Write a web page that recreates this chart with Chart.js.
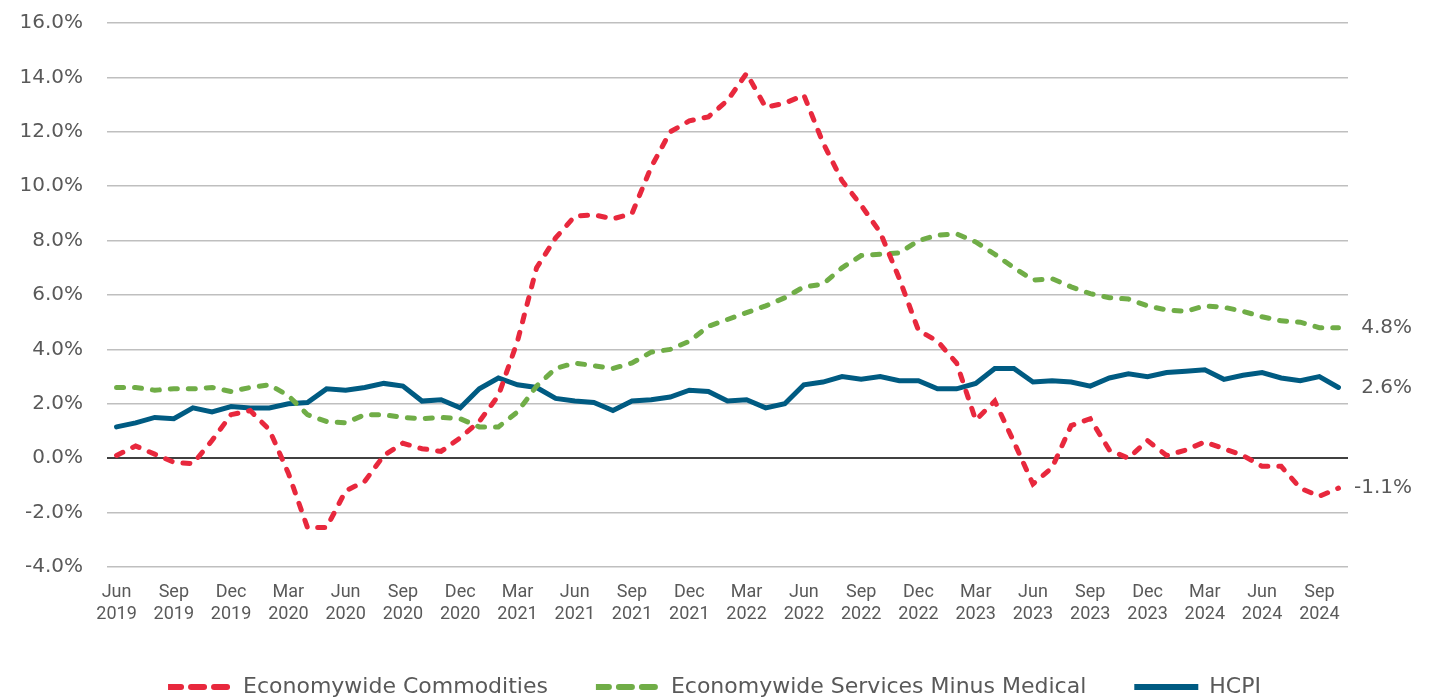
<!DOCTYPE html>
<html>
<head>
<meta charset="utf-8">
<script src="https://cdn.jsdelivr.net/npm/chart.js@4.4.1/dist/chart.umd.min.js"></script>
<style>
  html, body { margin: 0; padding: 0; background: #fff; }
  #wrap { width: 1429px; height: 698px; }
</style>
</head>
<body>
<div id="wrap"><canvas id="inflation"></canvas></div>
<script>
// monthly, Jun 2019 - Oct 2024
const months = [
  'Jun 2019', 'Jul 2019', 'Aug 2019', 'Sep 2019', 'Oct 2019', 'Nov 2019', 'Dec 2019',
  'Jan 2020', 'Feb 2020', 'Mar 2020', 'Apr 2020', 'May 2020', 'Jun 2020', 'Jul 2020', 'Aug 2020',
  'Sep 2020', 'Oct 2020', 'Nov 2020', 'Dec 2020',
  'Jan 2021', 'Feb 2021', 'Mar 2021', 'Apr 2021', 'May 2021', 'Jun 2021', 'Jul 2021', 'Aug 2021',
  'Sep 2021', 'Oct 2021', 'Nov 2021', 'Dec 2021',
  'Jan 2022', 'Feb 2022', 'Mar 2022', 'Apr 2022', 'May 2022', 'Jun 2022', 'Jul 2022', 'Aug 2022',
  'Sep 2022', 'Oct 2022', 'Nov 2022', 'Dec 2022',
  'Jan 2023', 'Feb 2023', 'Mar 2023', 'Apr 2023', 'May 2023', 'Jun 2023', 'Jul 2023', 'Aug 2023',
  'Sep 2023', 'Oct 2023', 'Nov 2023', 'Dec 2023',
  'Jan 2024', 'Feb 2024', 'Mar 2024', 'Apr 2024', 'May 2024', 'Jun 2024', 'Jul 2024', 'Aug 2024',
  'Sep 2024', 'Oct 2024'
];

const commodities = [
  0.1, 0.45, 0.15, -0.15, -0.2, 0.65, 1.6, 1.75, 1.05, -0.55,
  -2.55, -2.55, -1.2, -0.85, 0.1, 0.55, 0.35, 0.25, 0.75, 1.35,
  2.3, 4.3, 7.0, 8.1, 8.9, 8.95, 8.8, 9.0, 10.7, 12.0,
  12.4, 12.55, 13.15, 14.15, 12.9, 13.05, 13.35, 11.6, 10.2, 9.3,
  8.3, 6.6, 4.7, 4.3, 3.5, 1.4, 2.1, 0.6, -0.95, -0.35,
  1.2, 1.45, 0.3, 0.0, 0.65, 0.1, 0.3, 0.6, 0.35, 0.1,
  -0.3, -0.3, -1.1, -1.4, -1.1
];

const servicesExMedical = [
  2.6, 2.6, 2.5, 2.55, 2.55, 2.6, 2.45, 2.6, 2.7, 2.3,
  1.6, 1.35, 1.3, 1.6, 1.6, 1.5, 1.45, 1.5, 1.45, 1.15,
  1.15, 1.7, 2.65, 3.3, 3.5, 3.4, 3.3, 3.5, 3.9, 4.0,
  4.3, 4.85, 5.1, 5.35, 5.6, 5.9, 6.3, 6.4, 7.0, 7.45,
  7.5, 7.55, 8.0, 8.2, 8.25, 7.95, 7.5, 7.0, 6.55, 6.6,
  6.3, 6.05, 5.9, 5.85, 5.6, 5.45, 5.4, 5.6, 5.55, 5.4,
  5.2, 5.05, 5.0, 4.8, 4.8
];

const hcpi = [
  1.15, 1.3, 1.5, 1.45, 1.85, 1.7, 1.9, 1.85, 1.85, 2.0,
  2.05, 2.55, 2.5, 2.6, 2.75, 2.65, 2.1, 2.15, 1.85, 2.55,
  2.95, 2.7, 2.6, 2.2, 2.1, 2.05, 1.75, 2.1, 2.15, 2.25,
  2.5, 2.45, 2.1, 2.15, 1.85, 2.0, 2.7, 2.8, 3.0, 2.9,
  3.0, 2.85, 2.85, 2.55, 2.55, 2.75, 3.3, 3.3, 2.8, 2.85,
  2.8, 2.65, 2.95, 3.1, 3.0, 3.15, 3.2, 3.25, 2.9, 3.05,
  3.15, 2.95, 2.85, 3.0, 2.6
];

const textGrey = '#595959';

// last value written at the right of each line
const endLabels = {
    id: 'endLabels',
    afterDatasetsDraw(chart) {
        const ctx = chart.ctx;
        const yScale = chart.scales.y;
        ctx.save();
        ctx.font = '20px "DejaVu Sans"';
        ctx.fillStyle = textGrey;
        ctx.textAlign = 'right';
        ctx.textBaseline = 'middle';
        chart.data.datasets.forEach(ds => {
            const last = ds.data[ds.data.length - 1];
            ctx.fillText(last.toFixed(1) + '%', chart.width - 17, yScale.getPixelForValue(last));
        });
        ctx.restore();
    }
};

new Chart(document.getElementById('inflation'), {
    type: 'line',
    data: {
        labels: months,
        datasets: [{
            label: 'Economywide Commodities',
            data: commodities,
            yAxisID: 'y',
            borderColor: '#E8283D',
            borderWidth: 5,
            borderDash: [7, 11],
            borderCapStyle: 'round',
            pointRadius: 0
        }, {
            label: 'Economywide Services Minus Medical',
            data: servicesExMedical,
            yAxisID: 'y',
            borderColor: '#70AD47',
            borderWidth: 5,
            borderDash: [7, 11],
            borderCapStyle: 'round',
            pointRadius: 0
        }, {
            label: 'HCPI',
            data: hcpi,
            yAxisID: 'y',
            borderColor: '#005B82',
            borderWidth: 5,
            borderCapStyle: 'round',
            pointRadius: 0
        }]
    },
    options: {
        responsive: true,
        maintainAspectRatio: false,
        animation: false,
        layout: {
            padding: { top: 23, right: 0, left: 0, bottom: -10 }
        },
        scales: {
            x: {
                offset: true,
                grid: { display: false },
                border: { display: false },
                afterFit: s => { s.height = 61; },
                ticks: {
                    autoSkip: false,
                    maxRotation: 0,
                    padding: 7,
                    color: textGrey,
                    font: { family: 'Roboto, sans-serif', size: 18, lineHeight: 1.22 },
                    callback: function(val, index) {
                        // every quarter, month above year
                        return index % 3 === 0 ? this.getLabelForValue(val).split(' ') : '';
                    }
                }
            },
            y: {
                min: -4,
                max: 16,
                border: { display: false },
                afterFit: s => { s.width = 107; },
                grid: {
                    // invisible tick marks push the labels away from the plot
                    tickLength: 24,
                    tickColor: 'rgba(0,0,0,0)',
                    color: c => c.tick.value === 0 ? '#404040' : '#BFBFBF',
                    lineWidth: c => c.tick.value === 0 ? 2 : 1.5
                },
                ticks: {
                    stepSize: 2,
                    padding: 0,
                    color: textGrey,
                    font: { family: '"DejaVu Sans"', size: 20 },
                    callback: v => v.toFixed(1) + '%'
                }
            },
            // empty strip on the right for the end-of-line values
            yRight: {
                position: 'right',
                grid: { display: false },
                border: { display: false },
                ticks: { display: false },
                afterFit: s => { s.width = 81; }
            }
        },
        plugins: {
            legend: {
                position: 'bottom',
                labels: {
                    // flat box: a zero-height rect stroked with the dash gives the line sample
                    boxWidth: 64,
                    boxHeight: 0,
                    padding: 48,
                    color: textGrey,
                    font: { family: '"DejaVu Sans"', size: 22 },
                    generateLabels: chart => Chart.defaults.plugins.legend.labels.generateLabels(chart).map(item => {
                        item.lineWidth = 6;
                        item.lineCap = 'round';
                        item.lineDash = item.lineDash && item.lineDash.length ? [13, 10] : [];
                        return item;
                    })
                }
            },
            tooltip: { enabled: false }
        }
    },
    plugins: [endLabels]
});
</script>
</body>
</html>
